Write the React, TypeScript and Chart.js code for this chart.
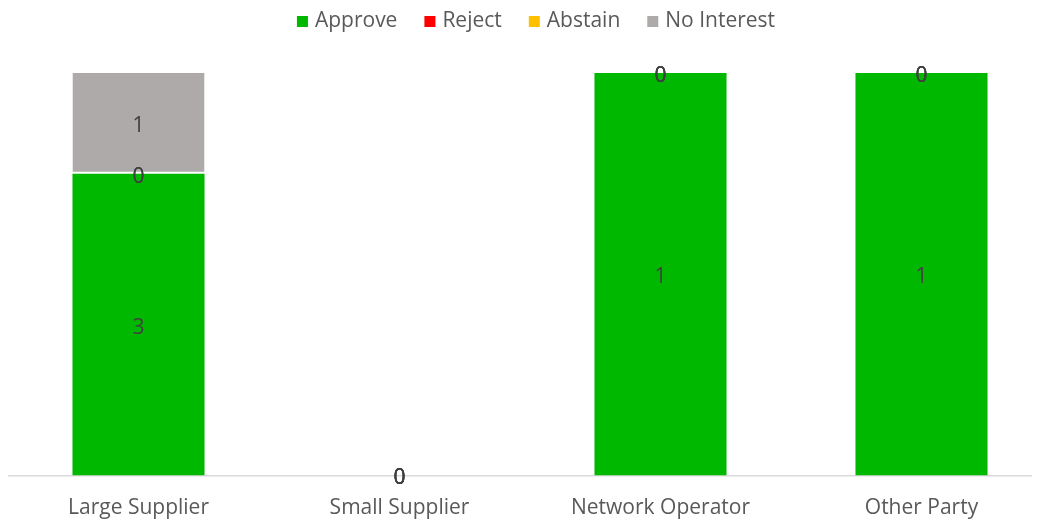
import React, { useEffect, useRef } from "react";
import { Chart, registerables } from "chart.js";

Chart.register(...registerables);

const categories = ["Large Supplier", "Small Supplier", "Network Operator", "Other Party"];
const approve = [3, 0, 1, 1];
const reject = [0, 0, 0, 0];
const abstain = [0, 0, 0, 0];
const noInterest = [1, 0, 0, 0];

const seriesNames = ["Approve", "Reject", "Abstain", "No Interest"];
const seriesColors = ["#00B800", "#FF0000", "#FFC000", "#AEAAAA"];
const seriesValues = [approve, reject, abstain, noInterest];

const FONT = "'Open Sans', 'Noto Sans', sans-serif";
const FONT_SIZE = 21;

const labelPlugin = {
  id: "stackLabels",
  afterDatasetsDraw(chart: any) {
    const ctx = chart.ctx;
    ctx.save();
    ctx.font = `${FONT_SIZE}px ${FONT}`;
    ctx.fillStyle = "#404040";
    ctx.textAlign = "center";
    ctx.textBaseline = "middle";
    chart.data.datasets.forEach((ds: any, di: number) => {
      const meta = chart.getDatasetMeta(di);
      meta.data.forEach((el: any, i: number) => {
        const raw = ds.rawValues[i];
        const y = (el.y + el.base) / 2 + 3;
        ctx.fillText(String(raw), el.x, y);
      });
    });
    ctx.restore();
  },
};

const legendPlugin = {
  id: "customLegend",
  afterDraw(chart: any) {
    const ctx = chart.ctx;
    ctx.save();
    ctx.font = `${FONT_SIZE}px ${FONT}`;
    ctx.textBaseline = "alphabetic";
    ctx.textAlign = "left";
    const box = 11;
    const boxGap = 7;
    const itemGap = 27;
    const items = chart.data.datasets.map((ds: any) => ({
      label: ds.label,
      color: ds.backgroundColor,
      w: ctx.measureText(ds.label).width,
    }));
    const total =
      items.reduce((s: number, it: any) => s + box + boxGap + it.w, 0) +
      itemGap * (items.length - 1);
    let x = chart.width / 2 + 6 - total / 2;
    const baseline = 18.5;
    const boxCenter = 13.5;
    items.forEach((it: any) => {
      ctx.fillStyle = it.color;
      ctx.fillRect(x, boxCenter - box / 2, box, box);
      x += box + boxGap;
      ctx.fillStyle = "#595959";
      ctx.fillText(it.label, x, baseline);
      x += it.w + itemGap;
    });
    ctx.restore();
  },
};

export default function App() {
  const ref = useRef<HTMLCanvasElement>(null);
  useEffect(() => {
    if (!ref.current) return;
    const totals = categories.map((_, i) =>
      seriesValues.reduce((s, arr) => s + arr[i], 0)
    );
    const datasets = seriesNames.map((name, si) => ({
      label: name,
      data: seriesValues[si].map((v, i) => (totals[i] > 0 ? (v / totals[i]) * 100 : 0)),
      rawValues: seriesValues[si],
      backgroundColor: seriesColors[si],
      borderColor: "#FFFFFF",
      borderWidth: si === 3 ? { top: 0, left: 0, right: 0, bottom: 2 } : 0,
      borderSkipped: false,
      categoryPercentage: 1,
      barPercentage: 0.506,
    }));
    const chart = new Chart(ref.current, {
      type: "bar",
      data: { labels: categories, datasets: datasets as any },
      options: {
        animation: false,
        responsive: false,
        maintainAspectRatio: false,
        layout: { padding: { top: 65, left: 0, right: 0, bottom: 0 } },
        plugins: {
          legend: { display: false },
          tooltip: { enabled: false },
        },
        scales: {
          x: {
            stacked: true,
            grid: { display: false, drawTicks: false },
            border: { display: true, color: "#D9D9D9", width: 1.5 },
            ticks: {
              color: "#595959",
              font: { family: FONT, size: FONT_SIZE },
              padding: 19.5,
            },
            afterFit(scale: any) {
              scale.height = 46.5;
            },
          },
          y: {
            stacked: true,
            display: false,
            min: 0,
            max: 100,
          },
        },
      },
      plugins: [labelPlugin, legendPlugin],
    });
    return () => chart.destroy();
  }, []);
  return (
    <div style={{ width: 1032, height: 514, overflow: "hidden" }}>
      <canvas ref={ref} width={1044} height={514} style={{ display: "block" }} />
    </div>
  );
}
